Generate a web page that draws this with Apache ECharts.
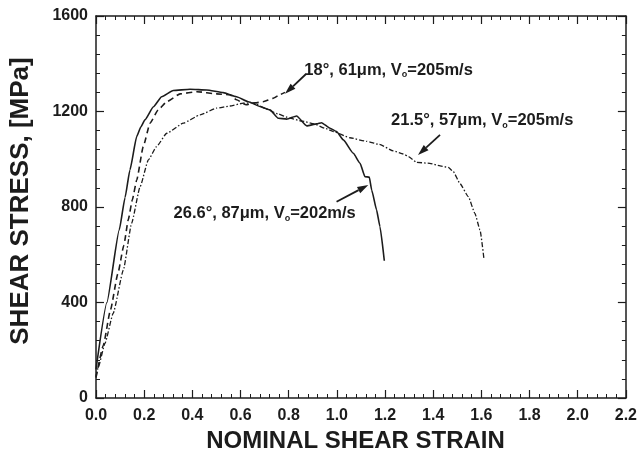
<!DOCTYPE html>
<html>
<head>
<meta charset="utf-8">
<script src="https://cdn.jsdelivr.net/npm/echarts@6/dist/echarts.min.js"></script>
<style>
  html, body { margin: 0; padding: 0; background: #fff; }
  .layer { position: absolute; left: 0; top: 0; width: 640px; height: 457px; }
</style>
</head>
<body>
<div id="frame" class="layer"></div>
<div id="chart" class="layer"></div>
<script>
// strain (x) and stress in MPa (y)
const solidX = [0.0, 0.045, 0.096, 0.12, 0.14, 0.168, 0.185, 0.202, 0.237, 0.271, 0.319, 0.388, 0.457, 0.525, 0.58, 0.629, 0.677, 0.718, 0.752, 0.787, 0.828, 0.87, 0.911, 0.931, 0.966, 0.993, 1.021, 1.062, 1.09, 1.11, 1.128, 1.138, 1.158, 1.172, 1.19]
const solidY = [120, 400, 704, 840, 955, 1095, 1135, 1165, 1220, 1262, 1288, 1293, 1290, 1279, 1262, 1241, 1221, 1207, 1172, 1168, 1181, 1140, 1148, 1153, 1130, 1116, 1081, 1025, 983, 927, 925, 871, 788, 718, 575]

const dashX = [0.0, 0.03, 0.06, 0.09, 0.115, 0.133, 0.15, 0.168, 0.195, 0.223, 0.257, 0.292, 0.347, 0.416, 0.498, 0.553, 0.58, 0.62, 0.656, 0.69, 0.73, 0.762, 0.78]
const dashY = [85, 220, 370, 520, 640, 746, 830, 913, 1053, 1151, 1207, 1241, 1274, 1283, 1274, 1270, 1249, 1228, 1236, 1241, 1255, 1272, 1280]

const dotX = [0.0, 0.01, 0.037, 0.071, 0.113, 0.147, 0.182, 0.216, 0.25, 0.292, 0.36, 0.43, 0.498, 0.553, 0.608, 0.65, 0.70, 0.75, 0.80, 0.85, 0.90, 0.95, 0.98, 1.048, 1.117, 1.17, 1.227, 1.268, 1.29, 1.323, 1.378, 1.42, 1.454, 1.475, 1.502, 1.537, 1.564, 1.585, 1.601]
const dotY = [90, 131, 229, 355, 536, 732, 885, 997, 1053, 1109, 1151, 1186, 1214, 1223, 1235, 1236, 1212, 1190, 1172, 1160, 1148, 1128, 1116, 1090, 1075, 1062, 1035, 1022, 1011, 987, 983, 972, 966, 948, 899, 843, 773, 704, 585]

const xTicks = [0, 2.2, 0.2]
const yTicks = [0, 1600, 400]

const xTitle = 'NOMINAL SHEAR STRAIN'
const yTitle = 'SHEAR STRESS, [MPa]'

// annotation text, where it sits (data coords), and the arrow pointing at the curve
const notes = [
  { text: '{t|18°, 61μm, V}{s|o}{t|=205m/s}', at: [0.86, 1374], from: [0.867, 1357], to: [0.78, 1274] },
  { text: '{t|21.5°, 57μm, V}{s|o}{t|=205m/s}', at: [1.218, 1161], from: [1.42, 1102], to: [1.329, 1018] },
  { text: '{t|26.6°, 87μm, V}{s|o}{t|=202m/s}', at: [0.32, 771], from: [0.993, 822], to: [1.124, 892] }
]

function zip (xs, ys) {
  return xs.map((v, i) => [v, ys[i]])
}

const ink = '#1c1c1c'
const font = 'Liberation Sans, Arial, sans-serif'
const grid = { left: 96, right: 11, top: 16, bottom: 59 }

// --- bottom layer: the boxed axes with inward ticks on all four sides
function axisBase (show) {
  return {
    type: 'value',
    axisLine: { show: true, onZero: false, lineStyle: { color: ink, width: 1.5 } },
    axisTick: { show: true, inside: true, length: 8, lineStyle: { color: ink, width: 1.2 } },
    minorTick: { show: true, splitNumber: 5, length: 4, lineStyle: { color: ink, width: 1 } },
    splitLine: { show: false },
    axisLabel: { show: show, color: ink, fontSize: 16, fontWeight: 'bold', fontFamily: font, formatter: v => String(v) }
  }
}

const frame = echarts.init(document.getElementById('frame'))
frame.setOption({
  animation: false,
  grid: grid,
  xAxis: [
    Object.assign(axisBase(true), {
      position: 'bottom', min: xTicks[0], max: xTicks[1], interval: xTicks[2],
      axisLabel: { show: true, color: ink, fontSize: 16, fontWeight: 'bold', fontFamily: font, margin: 10, formatter: v => v.toFixed(1) }
    }),
    Object.assign(axisBase(false), { position: 'top', min: xTicks[0], max: xTicks[1], interval: xTicks[2] })
  ],
  yAxis: [
    Object.assign(axisBase(true), { position: 'left', min: yTicks[0], max: yTicks[1], interval: yTicks[2] }),
    Object.assign(axisBase(false), { position: 'right', min: yTicks[0], max: yTicks[1], interval: yTicks[2] })
  ],
  series: [{ type: 'line', data: [] }]
})

// --- top layer: the curves and the notes, on the same scales
const chart = echarts.init(document.getElementById('chart'))
chart.setOption({
  animation: false,
  backgroundColor: 'transparent',
  grid: grid,
  xAxis: { type: 'value', show: false, min: xTicks[0], max: xTicks[1], interval: xTicks[2] },
  yAxis: { type: 'value', show: false, min: yTicks[0], max: yTicks[1], interval: yTicks[2] },
  series: [
    {
      type: 'line', data: zip(solidX, solidY), symbol: 'none',
      smooth: 0.15, smoothMonotone: 'x',
      lineStyle: { color: ink, width: 1.6, type: 'solid' }
    },
    {
      type: 'line', data: zip(dashX, dashY), symbol: 'none',
      smooth: 0.15, smoothMonotone: 'x',
      lineStyle: { color: ink, width: 1.6, type: [6, 4] }
    },
    {
      type: 'line', data: zip(dotX, dotY), symbol: 'none',
      smooth: 0.15, smoothMonotone: 'x',
      lineStyle: { color: ink, width: 1.3, type: [5, 2, 1.5, 2] }
    }
  ]
})

const toPx = c => chart.convertToPixel({ gridIndex: 0 }, c)
const graphics = []

// axis titles
const bl = toPx([xTicks[0], yTicks[0]])
const tr = toPx([xTicks[1], yTicks[1]])
graphics.push({
  type: 'text', silent: true, x: (bl[0] + tr[0]) / 2 - 7, y: bl[1] + 43,
  style: { text: xTitle, align: 'center', verticalAlign: 'middle', fill: ink, fontSize: 24, fontWeight: 'bold', fontFamily: font }
})
graphics.push({
  type: 'text', silent: true, x: 21, y: (bl[1] + tr[1]) / 2 - 6, rotation: Math.PI / 2,
  style: { text: yTitle, align: 'center', verticalAlign: 'middle', fill: ink, fontSize: 26, fontWeight: 'bold', fontFamily: font }
})

notes.forEach(n => {
  const p = toPx(n.at)
  graphics.push({
    type: 'text', x: p[0], y: p[1], silent: true,
    style: {
      text: n.text, verticalAlign: 'middle', align: 'left',
      rich: {
        t: { fill: ink, fontSize: 16.5, fontWeight: 'bold', fontFamily: font, lineHeight: 18 },
        s: { fill: ink, fontSize: 9, fontWeight: 'bold', fontFamily: font, lineHeight: 18, verticalAlign: 'bottom' }
      }
    }
  })
  const a = toPx(n.from)
  const b = toPx(n.to)
  const dx = b[0] - a[0]
  const dy = b[1] - a[1]
  const len = Math.sqrt(dx * dx + dy * dy)
  const ux = dx / len
  const uy = dy / len
  const head = 11
  const half = 3.5
  const bx = b[0] - ux * head
  const by = b[1] - uy * head
  graphics.push({
    type: 'line', silent: true,
    shape: { x1: a[0], y1: a[1], x2: bx, y2: by },
    style: { stroke: ink, lineWidth: 1.8 }
  })
  graphics.push({
    type: 'polygon', silent: true,
    shape: { points: [[b[0], b[1]], [bx - uy * half, by + ux * half], [bx + uy * half, by - ux * half]] },
    style: { fill: ink }
  })
})
chart.setOption({ graphic: graphics })
</script>
</body>
</html>
